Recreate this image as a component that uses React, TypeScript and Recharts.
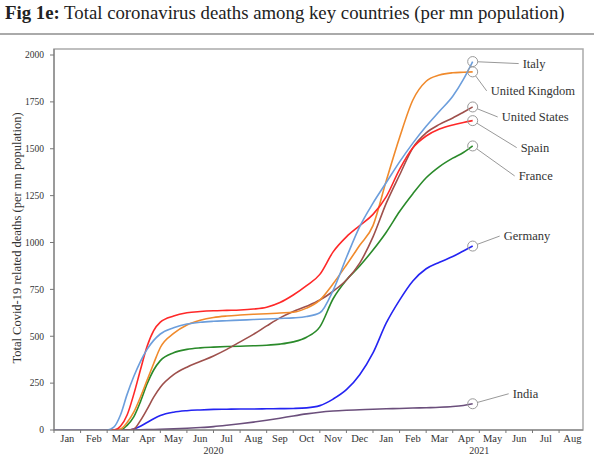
import React from "react";
import {
  LineChart,
  Line,
  XAxis,
  YAxis,
  ReferenceArea,
  Label,
} from "recharts";

// months since 1 Jan 2020
const TIME = [
  0, 1, 2, 2.25, 2.5, 2.75, 3, 3.25, 3.5, 3.75, 4, 4.5, 5, 5.5, 6, 6.5, 7, 7.5, 8, 8.5, 9, 9.5, 10,
  10.5, 11, 11.5, 12, 12.5, 13, 13.5, 14, 14.5, 15, 15.4, 15.75,
];

const ITALY = [
  0, 0, 0, 15, 80, 190, 285, 365, 430, 478, 512, 545, 565, 575, 580, 583, 586, 589, 592, 595, 598,
  605, 625, 745, 920, 1085, 1210, 1320, 1430, 1530, 1620, 1700, 1780, 1870, 1965,
];
const UK = [
  0, 0, 0, 0, 5, 40, 95, 175, 265, 355, 440, 515, 560, 585, 600, 608, 613, 617, 620, 624, 628, 650,
  693, 780, 880, 985, 1090, 1330, 1560, 1760, 1860, 1893, 1905, 1908, 1910,
];
const US = [
  0, 0, 0, 0, 0, 0, 5, 50, 110, 175, 228, 295, 335, 365, 395, 430, 470, 510, 555, 598, 632, 660, 693,
  740, 800, 890, 1030, 1210, 1360, 1505, 1585, 1630, 1664, 1695, 1723,
];
const SPAIN = [
  0, 0, 0, 0, 20, 80, 190, 320, 445, 530, 575, 608, 625, 632, 636, 638, 640, 645, 655, 680, 720, 770,
  830, 950, 1030, 1090, 1150, 1245, 1390, 1505, 1568, 1605, 1627, 1640, 1650,
];
const FRANCE = [
  0, 0, 0, 0, 0, 25, 70, 150, 245, 320, 370, 412, 430, 438, 442, 445, 447, 449, 452, 458, 470, 495,
  550, 700, 800, 875, 960, 1055, 1165, 1260, 1345, 1405, 1450, 1480, 1515,
];
const GERMANY = [
  0, 0, 0, 0, 0, 0, 5, 20, 40, 60, 77, 95, 103, 107, 110, 111, 112, 112, 113, 114, 115, 118, 130,
  165, 215, 295, 411, 571, 693, 795, 860, 895, 925, 955, 981,
];
const INDIA = [
  0, 0, 0, 0, 0, 0, 0, 1, 2, 3, 4, 6, 9, 13, 18, 25, 33, 42, 52, 63, 75, 86, 95, 101, 105, 108, 111,
  113, 115, 117, 119, 121, 125, 131, 140,
];

const MONTHS = ["Jan", "Feb", "Mar", "Apr", "May", "Jun", "Jul", "Aug", "Sep", "Oct", "Nov", "Dec"];
const MONTH_TICKS = [0, 1, 2, 3, 4, 5, 6, 7, 8, 9, 10, 11, 12, 13, 14, 15, 16, 17, 18, 19];
const YEAR_TICKS: Record<number, string> = { 6: "2020", 16: "2021" };
const Y_TICKS = [0, 250, 500, 750, 1000, 1250, 1500, 1750, 2000];

const data = TIME.map((t, i) => ({
  t,
  italy: ITALY[i],
  uk: UK[i],
  us: US[i],
  spain: SPAIN[i],
  france: FRANCE[i],
  germany: GERMANY[i],
  india: INDIA[i],
}));

// label placement relative to the last point
const SERIES = [
  { key: "india", name: "India", color: "#6b4f7c", dx: 40, dy: -10 },
  { key: "germany", name: "Germany", color: "#2424f2", dx: 31, dy: -10 },
  { key: "france", name: "France", color: "#2a8a2a", dx: 46, dy: 30 },
  { key: "us", name: "United States", color: "#9e504c", dx: 29, dy: 10 },
  { key: "uk", name: "United Kingdom", color: "#f08a2c", dx: 18, dy: 19 },
  { key: "spain", name: "Spain", color: "#fe2828", dx: 48, dy: 27 },
  { key: "italy", name: "Italy", color: "#6c9edc", dx: 50, dy: 2 },
];

const SERIF = "'Liberation Serif', 'DejaVu Serif', serif";
const TEXT = "#333";
const X_MAX = 19.9;
const Y_MAX = 2032;
const HALF_MONTH = 13.3;

function MonthTick(props: any) {
  const { x, y, payload } = props;
  const v = payload.value as number;
  return (
    <g>
      <text x={x + HALF_MONTH} y={y + 7} textAnchor="middle" fontSize={10.5} fontFamily={SERIF} fill={TEXT}>
        {MONTHS[v % 12]}
      </text>
      {YEAR_TICKS[v] && (
        <text x={x} y={y + 19} textAnchor="middle" fontSize={10} fontFamily={SERIF} fill={TEXT}>
          {YEAR_TICKS[v]}
        </text>
      )}
    </g>
  );
}

function endDot(s: (typeof SERIES)[number]) {
  return (props: any) => {
    const { cx, cy, index } = props;
    if (index !== TIME.length - 1) return <g key={`d-${s.key}-${index}`} />;
    const lx = s.dx - 4;
    const ly = s.dy;
    const len = Math.sqrt(lx * lx + ly * ly);
    return (
      <g key={`d-${s.key}-${index}`}>
        <circle cx={cx} cy={cy} r={5} fill="none" stroke="#999" strokeWidth={1} />
        <line
          x1={cx + (lx / len) * 5}
          y1={cy + (ly / len) * 5}
          x2={cx + lx}
          y2={cy + ly}
          stroke="#999"
          strokeWidth={1}
        />
        <text
          x={cx + s.dx}
          y={cy + s.dy}
          dominantBaseline="central"
          fontSize={12.5}
          fontFamily={SERIF}
          fill={TEXT}
        >
          {s.name}
        </text>
      </g>
    );
  };
}

function YLabel() {
  return (
    <text
      x={17}
      y={238}
      transform="rotate(-90 17 238)"
      textAnchor="middle"
      dominantBaseline="central"
      fontSize={12.5}
      fontFamily={SERIF}
      fill={TEXT}
    >
      Total Covid-19 related deaths (per mn population)
    </text>
  );
}

export default function App() {
  return (
    <div style={{ position: "absolute", left: 0, top: 0, width: 594, height: 466, background: "#fff" }}>
      <div
        style={{
          position: "absolute",
          left: 5,
          top: 2,
          fontFamily: SERIF,
          fontSize: 18.8,
          color: "#222",
          whiteSpace: "nowrap",
        }}
      >
        <b>Fig 1e:</b> Total coronavirus deaths among key countries (per mn population)
      </div>
      <div style={{ position: "absolute", left: 0, top: 33, width: 594, height: 2, background: "#aaa" }} />
      <div style={{ position: "absolute", left: 0, top: 0 }}>
        <LineChart width={594} height={466} data={data} margin={{ top: 49, right: 11, bottom: 5, left: 0 }}>
          <ReferenceArea
            x1={0}
            x2={X_MAX}
            y1={0}
            y2={Y_MAX}
            fill="none"
            stroke="#aaa"
            strokeWidth={1.5}
            ifOverflow="extendDomain"
          />
          <XAxis
            dataKey="t"
            type="number"
            domain={[0, X_MAX]}
            ticks={MONTH_TICKS}
            interval={0}
            tick={<MonthTick />}
            tickSize={3}
            stroke="#777"
            height={31}
            allowDataOverflow
          />
          <YAxis
            type="number"
            domain={[0, Y_MAX]}
            ticks={Y_TICKS}
            interval={0}
            tickSize={4}
            tickMargin={6}
            width={54}
            stroke="#777"
            tick={{ fontSize: 9.5, fontFamily: SERIF, fill: TEXT }}
            allowDataOverflow
          >
            <Label content={<YLabel />} />
          </YAxis>
          {SERIES.map((s) => (
            <Line
              key={s.key}
              type="monotone"
              dataKey={s.key}
              stroke={s.color}
              strokeWidth={1.6}
              dot={endDot(s)}
              activeDot={false}
              isAnimationActive={false}
            />
          ))}
        </LineChart>
      </div>
    </div>
  );
}
